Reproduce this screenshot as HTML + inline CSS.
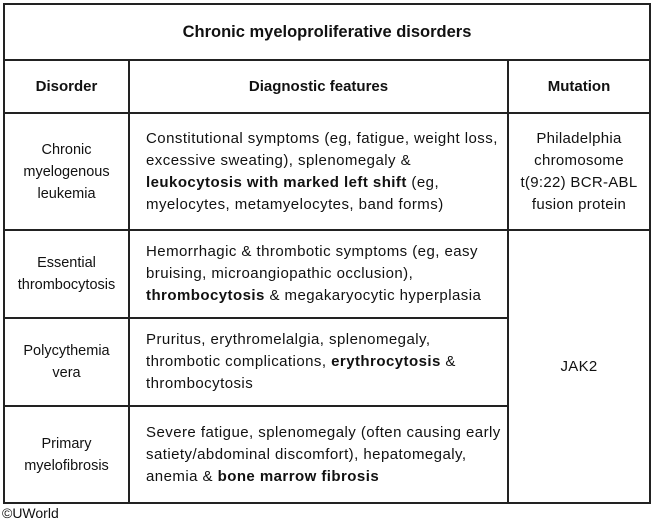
<!DOCTYPE html>
<html><head><meta charset="utf-8"><style>
body{margin:0;width:654px;height:522px;background:#fff;position:relative;font-family:"Liberation Sans",sans-serif;color:#111;overflow:hidden}
.l{position:absolute;background:#222}
.c{position:absolute;display:flex;align-items:center;justify-content:center;text-align:center;font-size:14.5px;line-height:22px}
.c>div{white-space:nowrap}
.d{justify-content:flex-start;text-align:left;padding-left:16px;box-sizing:border-box;font-size:15px;letter-spacing:0.45px}
.m{font-size:15px;letter-spacing:0.3px}
b{font-weight:bold}
.h{font-weight:bold;font-size:15px}
</style></head><body>
<div class="l" style="left:3px;top:3px;width:648px;height:2px"></div>
<div class="l" style="left:3px;top:502px;width:648px;height:2px"></div>
<div class="l" style="left:3px;top:3px;width:2px;height:501px"></div>
<div class="l" style="left:649px;top:3px;width:2px;height:501px"></div>
<div class="l" style="left:3px;top:59px;width:648px;height:2px"></div>
<div class="l" style="left:3px;top:112px;width:648px;height:2px"></div>
<div class="l" style="left:3px;top:229px;width:648px;height:2px"></div>
<div class="l" style="left:3px;top:317px;width:506px;height:2px"></div>
<div class="l" style="left:3px;top:405px;width:506px;height:2px"></div>
<div class="l" style="left:128px;top:59px;width:2px;height:445px"></div>
<div class="l" style="left:507px;top:59px;width:2px;height:445px"></div>

<div class="c h" style="left:5px;top:5px;width:644px;height:54px;font-size:16.5px"><div>Chronic myeloproliferative disorders</div></div>
<div class="c h" style="left:5px;top:61px;width:123px;height:51px"><div>Disorder</div></div>
<div class="c h" style="left:130px;top:61px;width:377px;height:51px"><div>Diagnostic features</div></div>
<div class="c h" style="left:509px;top:61px;width:140px;height:51px"><div>Mutation</div></div>

<div class="c" style="left:5px;top:114px;width:123px;height:115px"><div>Chronic<br>myelogenous<br>leukemia</div></div>
<div class="c d" style="left:130px;top:114px;width:377px;height:115px"><div>Constitutional symptoms (eg, fatigue, weight loss,<br>excessive sweating), splenomegaly &amp;<br><b>leukocytosis with marked left shift</b> (eg,<br>myelocytes, metamyelocytes, band forms)</div></div>
<div class="c m" style="left:509px;top:114px;width:140px;height:115px"><div>Philadelphia<br>chromosome<br>t(9:22) BCR-ABL<br>fusion protein</div></div>

<div class="c" style="left:5px;top:231px;width:123px;height:86px"><div>Essential<br>thrombocytosis</div></div>
<div class="c d" style="left:130px;top:231px;width:377px;height:86px"><div>Hemorrhagic &amp; thrombotic symptoms (eg, easy<br>bruising, microangiopathic occlusion),<br><b>thrombocytosis</b> &amp; megakaryocytic hyperplasia</div></div>

<div class="c" style="left:5px;top:319px;width:123px;height:86px"><div>Polycythemia<br>vera</div></div>
<div class="c d" style="left:130px;top:319px;width:377px;height:86px"><div>Pruritus, erythromelalgia, splenomegaly,<br>thrombotic complications, <b>erythrocytosis</b> &amp;<br>thrombocytosis</div></div>

<div class="c" style="left:5px;top:407px;width:123px;height:95px"><div>Primary<br>myelofibrosis</div></div>
<div class="c d" style="left:130px;top:407px;width:377px;height:95px"><div>Severe fatigue, splenomegaly (often causing early<br>satiety/abdominal discomfort), hepatomegaly,<br>anemia &amp; <b>bone marrow fibrosis</b></div></div>

<div class="c m" style="left:509px;top:231px;width:140px;height:271px"><div>JAK2</div></div>

<div style="position:absolute;left:2px;top:504px;font-size:14px;line-height:18px">©UWorld</div>
</body></html>
